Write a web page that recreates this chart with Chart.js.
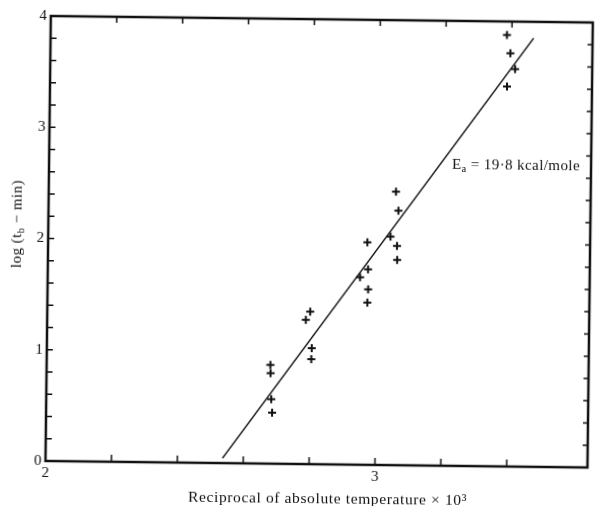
<!DOCTYPE html>
<html>
<head>
<meta charset="utf-8">
<script src="https://cdn.jsdelivr.net/npm/chart.js@4.4.1/dist/chart.umd.min.js"></script>
<style>
  html, body { margin: 0; padding: 0; background: #fff; overflow: hidden; }
  /* the scanned figure sits slightly tilted */
  #chart { display: block; transform: rotate(0.69deg); transform-origin: 298px 253px; }
</style>
</head>
<body>
<canvas id="chart" width="596" height="506"></canvas>
<script>
// Reciprocal of absolute temperature x 10^3 vs log(t_b - min)
const recipT = [2.798, 2.785, 2.804, 2.803, 2.679, 2.680, 2.683, 2.686,
                3.054, 3.062, 2.969, 3.039, 3.059, 3.060, 2.972, 2.948, 2.973, 2.971,
                3.385, 3.396, 3.411, 3.387];
const logTb  = [1.371, 1.296, 1.042, 0.943, 0.887, 0.813, 0.579, 0.459,
                2.459, 2.288, 2.001, 2.054, 1.971, 1.845, 1.758, 1.685, 1.578, 1.458,
                3.879, 3.715, 3.572, 3.415];

// fitted line end points
const fitT   = [2.537, 3.466];
const fitLog = [0.044, 3.853];

// labelled ticks
const xTickLabels = [2, 3];
const yTickLabels = [0, 1, 2, 3, 4];

const FONT = '"Liberation Serif", "Times New Roman", serif';

function isLabelled(list, v) {
  return list.some(t => Math.abs(t - v) < 1e-6);
}

function richText(ctx, parts, size, targetW) {
  const seg = parts.map(([t, sub]) => ({ t, sub, font: (sub ? size * 0.7 : size) + 'px ' + FONT }));
  ctx.letterSpacing = '0px';
  let nat = 0, n = 0;
  seg.forEach(s => { ctx.font = s.font; s.w = ctx.measureText(s.t).width; nat += s.w; n += [...s.t].length; });
  const sp = targetW ? (targetW - nat) / n : 0;
  return { seg, sp, size, total: nat + sp * n };
}

function drawRich(ctx, r, x, y) {
  let cx = x;
  ctx.textBaseline = 'middle';
  ctx.textAlign = 'left';
  r.seg.forEach(s => {
    ctx.font = s.font;
    ctx.letterSpacing = r.sp + 'px';
    ctx.fillText(s.t, cx, s.sub ? y + r.size * 0.28 : y);
    cx += s.w + r.sp * [...s.t].length;
  });
  ctx.letterSpacing = '0px';
}

const frame = {
  id: 'frame',
  afterDraw(chart) {
    const { ctx, chartArea: a, scales } = chart;
    ctx.save();
    ctx.strokeStyle = '#111';
    ctx.fillStyle = '#111';

    // box
    ctx.lineWidth = 2.5;
    ctx.strokeRect(a.left, a.top, a.right - a.left, a.bottom - a.top);

    // inward ticks every 0.2
    ctx.lineWidth = 1.5;
    ctx.beginPath();
    scales.x.ticks.forEach(t => {
      const k = t.value / 0.2;
      if (Math.abs(k - Math.round(k)) > 1e-6) return;
      const px = scales.x.getPixelForValue(t.value);
      if (px <= a.left + 1 || px >= a.right - 1) return;
      ctx.moveTo(px, a.bottom); ctx.lineTo(px, a.bottom - 7);
      ctx.moveTo(px, a.top); ctx.lineTo(px, a.top + 6);
    });
    scales.y.ticks.forEach(t => {
      const py = scales.y.getPixelForValue(t.value);
      if (py <= a.top + 1 || py >= a.bottom - 1) return;
      ctx.moveTo(a.left, py); ctx.lineTo(a.left + 6, py);
      ctx.moveTo(a.right, py); ctx.lineTo(a.right - 5, py);
    });
    ctx.stroke();

    // annotation
    const ann = richText(ctx, [['E', false], ['a', true], [' = 19\u00b78 kcal/mole', false]], 15, 128);
    drawRich(ctx, ann, scales.x.getPixelForValue(3.223), scales.y.getPixelForValue(2.706));

    // x title
    const xt = richText(ctx, [['Reciprocal of absolute temperature \u00d7 10\u00b3', false]], 15.5, 279);
    drawRich(ctx, xt, 330.5 - xt.total / 2, 498.5);

    // y title
    const yt = richText(ctx, [['log (t', false], ['b', true], [' \u2212 min)', false]], 15, 88);
    ctx.translate(17.2, 227.4);
    ctx.rotate(-Math.PI / 2);
    drawRich(ctx, yt, -yt.total / 2, 0);
    ctx.restore();
  }
};

new Chart(document.getElementById('chart'), {
  type: 'scatter',
  data: {
    datasets: [
      {
        label: 'data',
        data: recipT.map((v, i) => ({ x: v, y: logTb[i] })),
        pointStyle: 'cross',
        pointRadius: 4,
        pointBorderWidth: 2,
        borderColor: '#111',
        backgroundColor: '#111'
      },
      {
        label: 'fit',
        type: 'line',
        data: fitT.map((v, i) => ({ x: v, y: fitLog[i] })),
        borderColor: '#111',
        borderWidth: 1.5,
        pointRadius: 0,
        fill: false
      }
    ]
  },
  options: {
    responsive: false,
    animation: false,
    devicePixelRatio: 1,
    layout: { padding: { top: 19, right: 2, left: 0, bottom: 0 } },
    plugins: { legend: { display: false }, tooltip: { enabled: false } },
    scales: {
      x: {
        type: 'linear',
        min: 2,
        max: 3.645,
        afterFit: s => { s.height = 42; },
        grid: { display: false, drawTicks: false },
        border: { display: false },
        ticks: {
          stepSize: 0.2,
          autoSkip: false,
          maxRotation: 0,
          padding: 3,
          color: '#111',
          font: { family: FONT, size: 15 },
          callback: v => isLabelled(xTickLabels, v) ? String(Math.round(v)) : ''
        }
      },
      y: {
        min: 0,
        max: 4,
        afterFit: s => { s.width = 48; },
        grid: { display: false, drawTicks: false },
        border: { display: false },
        ticks: {
          stepSize: 0.2,
          autoSkip: false,
          padding: 4,
          color: '#111',
          font: { family: FONT, size: 15 },
          callback: v => isLabelled(yTickLabels, v) ? String(Math.round(v)) : ''
        }
      }
    }
  },
  plugins: [frame]
});
</script>
</body>
</html>
